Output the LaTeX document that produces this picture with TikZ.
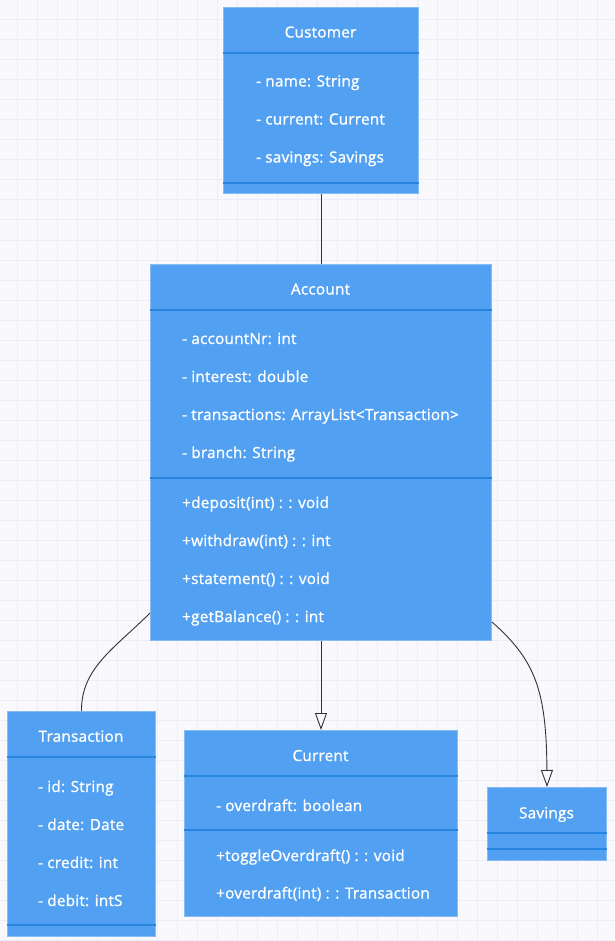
\documentclass[tikz,border=0pt]{standalone}
\usepackage{fontspec}
\setmainfont{Open Sans}[UprightFeatures={FakeBold=1.2}, LetterSpace=1.5]
\usetikzlibrary{arrows.meta}

\definecolor{pagebg}{RGB}{248,248,253}
\definecolor{gridline}{RGB}{236,237,248}
\definecolor{boxfill}{RGB}{82,160,242}
\definecolor{boxedge}{RGB}{135,188,245}
\definecolor{boxrule}{RGB}{40,134,224}
\definecolor{linkgray}{RGB}{51,51,51}

\begin{document}
\begin{tikzpicture}[x=1pt,y=-1pt]
\tikzstyle{class-box}=[draw=boxedge, fill=boxfill, line width=1pt, inner sep=0pt, anchor=north west]
\tikzstyle{class-title}=[text=white, font=\fontsize{15.3}{18}\selectfont, anchor=base, inner sep=0pt]
\tikzstyle{member}=[text=white, font=\fontsize{15.3}{18}\selectfont, anchor=base west, inner sep=0pt]
\tikzstyle{divider}=[draw=boxrule, line width=2pt]
\tikzstyle{link}=[draw=linkgray, line width=0.9pt]
\tikzstyle{inherits}=[link, -{Triangle[open, length=17pt, width=12pt, fill=pagebg]}]

% background and grid
\fill[pagebg] (0,0) rectangle (614,941);
\useasboundingbox (0,0) rectangle (614,941);
\foreach \gx in {17,37,...,614} \draw[gridline, line width=1pt] (\gx,0) -- (\gx,941);
\foreach \gy in {0,20,...,941} \draw[gridline, line width=1pt] (0,\gy) -- (614,\gy);

% Customer
\node[class-box, minimum width=195pt, minimum height=186pt] (customer) at (223,7) {};
\draw[divider] (customer.west |- 0,53) -- (customer.east |- 0,53);
\draw[divider] (customer.west |- 0,183) -- (customer.east |- 0,183);
\node[class-title] (customer-title) at (320.5,37.5) {Customer};
\node[member] (customer-name) at (256,86.5) {- name: String};
\node[member] (customer-current) at (256,124.5) {- current: Current};
\node[member] (customer-savings) at (256,162.5) {- savings: Savings};

% Account
\node[class-box, minimum width=341pt, minimum height=376pt] (account) at (150,264) {};
\draw[divider] (account.west |- 0,310) -- (account.east |- 0,310);
\draw[divider] (account.west |- 0,478) -- (account.east |- 0,478);
\node[class-title] (account-title) at (320.5,294.5) {Account};
\node[member] (account-nr) at (182,344) {- accountNr: int};
\node[member] (account-interest) at (182,382) {- interest: double};
\node[member] (account-transactions) at (182,420) {- transactions: ArrayList<Transaction>};
\node[member] (account-branch) at (182,458) {- branch: String};
\node[member] (account-deposit) at (182,508) {+deposit(int) : : void};
\node[member] (account-withdraw) at (182,546) {+withdraw(int) : : int};
\node[member] (account-statement) at (182,584) {+statement() : : void};
\node[member] (account-balance) at (182,622) {+getBalance() : : int};

% Transaction
\node[class-box, minimum width=148pt, minimum height=225pt] (transaction) at (7,711) {};
\draw[divider] (transaction.west |- 0,757) -- (transaction.east |- 0,757);
\draw[divider] (transaction.west |- 0,925) -- (transaction.east |- 0,925);
\node[class-title] (transaction-title) at (81,741.7) {Transaction};
\node[member] (transaction-id) at (38,792) {- id: String};
\node[member] (transaction-date) at (38,830) {- date: Date};
\node[member] (transaction-credit) at (38,868) {- credit: int};
\node[member] (transaction-debit) at (38,906) {- debit: intS};

% Current
\node[class-box, minimum width=273pt, minimum height=186pt] (current) at (184,730) {};
\draw[divider] (current.west |- 0,776) -- (current.east |- 0,776);
\draw[divider] (current.west |- 0,830) -- (current.east |- 0,830);
\node[class-title] (current-title) at (320.5,761) {Current};
\node[member] (current-overdraft) at (216,811) {- overdraft: boolean};
\node[member] (current-toggle) at (216,861) {+toggleOverdraft() : : void};
\node[member] (current-draw) at (216,898.5) {+overdraft(int) : : Transaction};

% Savings
\node[class-box, minimum width=119pt, minimum height=73pt] (savings) at (487,787) {};
\draw[divider] (savings.west |- 0,833) -- (savings.east |- 0,833);
\draw[divider] (savings.west |- 0,849) -- (savings.east |- 0,849);
\node[class-title] (savings-title) at (546.5,818.3) {Savings};

% relations
\draw[link] (customer) -- (account);
\draw[link] ([yshift=28pt]account.south west) .. controls (115,648) and (81,668) .. (transaction.north);
\draw[inherits] (account) -- (current);
\draw[inherits] ([yshift=19pt]account.south east) .. controls (535,660) and (546.5,690) .. (savings.north);
\end{tikzpicture}
\end{document}
